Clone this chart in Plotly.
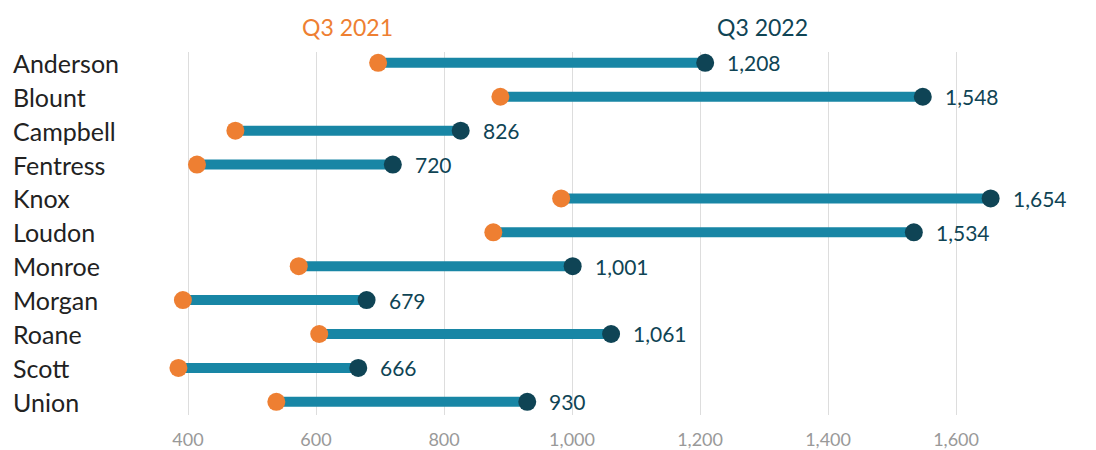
import plotly.graph_objects as go

counties = ["Anderson", "Blount", "Campbell", "Fentress", "Knox", "Loudon",
            "Monroe", "Morgan", "Roane", "Scott", "Union"]
q3_2021 = [697, 888, 474, 414, 983, 877, 573, 392, 605, 385, 538]
q3_2022 = [1208, 1548, 826, 720, 1654, 1534, 1001, 679, 1061, 666, 930]
x_ticks = [400, 600, 800, 1000, 1200, 1400, 1600]
header_2021 = "Q3 2021"
header_2022 = "Q3 2022"

ORANGE = "#EE7F32"
TEAL = "#1886A5"
DARK = "#0F4455"
FONT = "Lato, 'Open Sans', sans-serif"

W, H = 1096, 450
ML, MR = 150, 10
plot_top, plot_bottom = 52, 415
plot_w = W - ML - MR

line_x, line_y = [], []
for c, a, b in zip(counties, q3_2021, q3_2022):
    line_x += [a, b, None]
    line_y += [c, c, None]

fig = go.Figure()
fig.add_trace(go.Scatter(x=line_x, y=line_y, mode="lines",
                         line=dict(color=TEAL, width=10), hoverinfo="skip",
                         showlegend=False))
fig.add_trace(go.Scatter(x=q3_2021, y=counties, mode="markers", name=header_2021,
                         marker=dict(color=ORANGE, size=18), showlegend=False))
fig.add_trace(go.Scatter(x=q3_2022, y=counties, mode="markers", name=header_2022,
                         marker=dict(color=DARK, size=18), showlegend=False))

annotations = []
for c, v in zip(counties, q3_2022):
    annotations.append(dict(x=v, xref="x", y=c, yref="y", text=f"{v:,}",
                            xanchor="left", yanchor="middle", xshift=20,
                            showarrow=False,
                            font=dict(family=FONT, size=21, color=DARK)))
for c in counties:
    annotations.append(dict(x=(11 - ML) / plot_w, xref="paper", y=c, yref="y",
                            text=c, xanchor="left", yanchor="middle",
                            showarrow=False,
                            font=dict(family=FONT, size=25, color="#222222")))
header_y = (plot_bottom - 27) / (plot_bottom - plot_top)
annotations.append(dict(x=(347 - ML) / plot_w, xref="paper", y=header_y,
                        yref="paper", xanchor="center", yanchor="middle",
                        showarrow=False, text=header_2021,
                        font=dict(family=FONT, size=23, color=ORANGE)))
annotations.append(dict(x=(762 - ML) / plot_w, xref="paper", y=header_y,
                        yref="paper", xanchor="center", yanchor="middle",
                        showarrow=False, text=header_2022,
                        font=dict(family=FONT, size=23, color=DARK)))

fig.update_layout(
    width=W, height=H,
    margin=dict(l=ML, r=MR, t=plot_top, b=H - plot_bottom),
    plot_bgcolor="white", paper_bgcolor="white",
    xaxis=dict(range=[340.6, 1803], tickvals=x_ticks,
               ticktext=[f"{v:,}" for v in x_ticks],
               showgrid=True, gridcolor="#DDDDDD", gridwidth=1,
               zeroline=False, showline=False, automargin=False,
               ticks="outside", ticklen=8, tickcolor="rgba(0,0,0,0)",
               tickfont=dict(family=FONT, size=18, color="#999999")),
    yaxis=dict(categoryorder="array", categoryarray=counties,
               range=[10.39, -0.32], showticklabels=False, showgrid=False,
               zeroline=False, showline=False, automargin=False),
    annotations=annotations,
)

fig.write_html("out.html", config={"displayModeBar": False},
               post_script="document.body.style.margin='0';document.body.style.overflow='hidden';")
